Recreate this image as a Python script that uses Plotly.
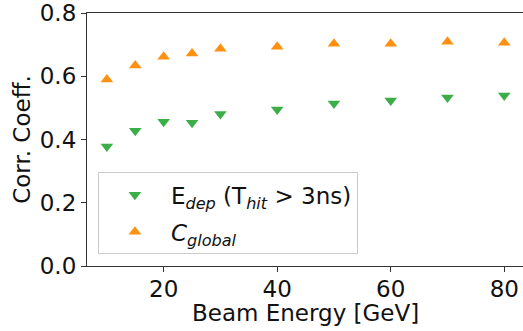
import plotly.graph_objects as go

energy = [10, 15, 20, 25, 30, 40, 50, 60, 70, 80]
edep_t3 = [0.378, 0.428, 0.456, 0.453, 0.481, 0.495, 0.514, 0.523, 0.533, 0.539]
c_global = [0.590, 0.634, 0.662, 0.672, 0.687, 0.693, 0.703, 0.703, 0.709, 0.706]
edep_err = [0.004] * 10
cg_err = [0.004] * 10

green = "#3cae48"
orange = "#ff9010"

fig = go.Figure()
fig.add_trace(go.Scatter(
    x=energy, y=edep_t3, mode="markers", legendgroup="a",
    marker=dict(symbol="triangle-down", size=11, color=green),
    error_y=dict(type="data", array=edep_err, color=green, thickness=1.5, width=0),
    name="E<sub><i>dep</i></sub> (T<sub><i>hit</i></sub> > 3ns)",
))
fig.add_trace(go.Scatter(
    x=energy, y=c_global, mode="markers", legendgroup="b",
    marker=dict(symbol="triangle-up", size=11, color=orange),
    error_y=dict(type="data", array=cg_err, color=orange, thickness=1.5, width=0),
    name="<i>C</i><sub><i>global</i></sub>",
))

fs = 23
axis_common = dict(
    showgrid=False, zeroline=False, showline=True, linecolor="#333333", linewidth=1.2,
    ticks="outside", ticklen=5, tickcolor="#333333",
    tickfont=dict(size=fs, color="#111111"), ticklabeloverflow="allow",
)
fig.update_xaxes(range=[6.5, 83.3], tickvals=[20, 40, 60, 80], mirror=True,
                 ticklabelstandoff=-3,
                 **axis_common)
fig.update_yaxes(range=[0, 0.8], tickvals=[0, 0.2, 0.4, 0.6, 0.8], tickformat=".1f", mirror=False,
                 title=dict(text="Corr. Coeff.", font=dict(size=fs, color="#111111"), standoff=2),
                 **axis_common)

fig.add_annotation(text="Beam Energy [GeV]", xref="paper", yref="paper",
                   x=0.5, y=-0.184, xanchor="center", yanchor="middle",
                   showarrow=False, font=dict(size=fs, color="#111111"))

fig.update_layout(
    width=523, height=331,
    margin=dict(l=87, r=0, t=10, b=65),
    plot_bgcolor="white", paper_bgcolor="white",
    font=dict(family="DejaVu Sans", size=fs, color="#111111"),
    legend=dict(x=0.025, y=0.37, xanchor="left", yanchor="top",
                bgcolor="rgba(255,255,255,0.9)", bordercolor="#cccccc", borderwidth=1,
                font=dict(size=fs), itemwidth=62, tracegroupgap=4),
    showlegend=True,
)

fig.write_html("out.html")
